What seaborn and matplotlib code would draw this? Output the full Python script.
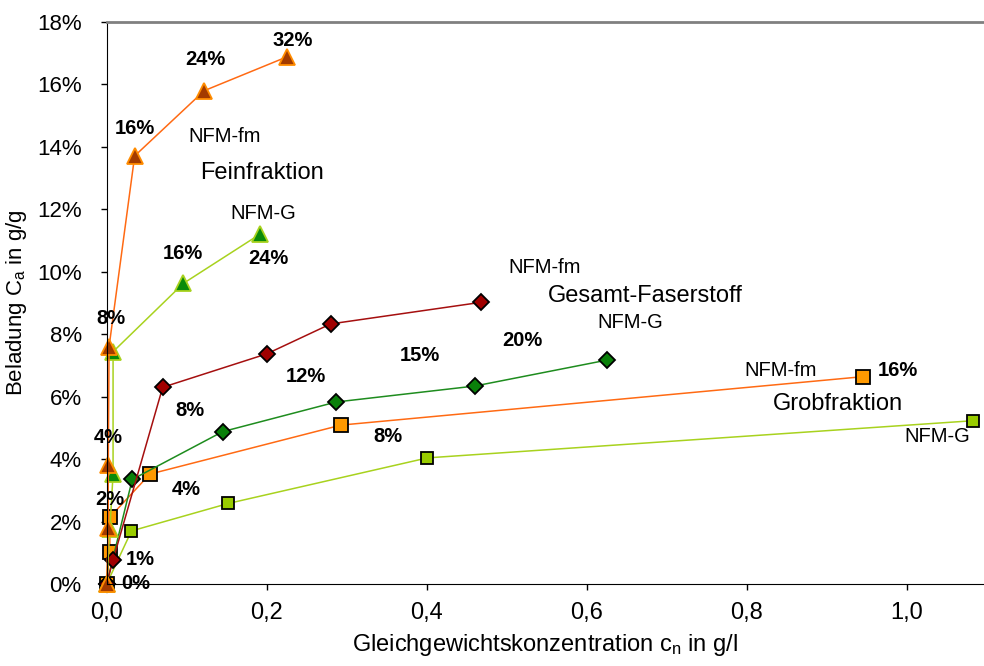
import numpy as np
import pandas as pd
import seaborn as sns
import matplotlib.pyplot as plt
from matplotlib.ticker import FuncFormatter, MultipleLocator

sns.set_style("white")
plt.rcParams["font.family"] = ["Liberation Sans", "DejaVu Sans"]
plt.rcParams["text.color"] = "black"
plt.rcParams["axes.labelcolor"] = "black"
plt.rcParams["mathtext.fontset"] = "custom"
plt.rcParams["mathtext.rm"] = "Liberation Sans"
plt.rcParams["mathtext.it"] = "Liberation Sans"
narrow = ["Liberation Sans Narrow", "Liberation Sans"]

# Feinfraktion
fein_fm_x = [0.0, 0.002, 0.002, 0.003, 0.035, 0.122, 0.226]
fein_fm_y = [0.0, 0.018, 0.0381, 0.076, 0.1371, 0.158, 0.1689]
fein_g_x = [0.0, 0.004, 0.008, 0.008, 0.096, 0.192]
fein_g_y = [0.0, 0.0176, 0.0352, 0.0744, 0.0963, 0.1121]

# Gesamt-Faserstoff
ges_fm_x = [0.0, 0.008, 0.070, 0.200, 0.280, 0.4675]
ges_fm_y = [0.0, 0.0077, 0.063, 0.0737, 0.0833, 0.0902]
ges_g_x = [0.0, 0.032, 0.145, 0.287, 0.460, 0.625]
ges_g_y = [0.0, 0.0335, 0.0488, 0.0583, 0.0634, 0.0717]

# Grobfraktion
grob_fm_x = [0.0, 0.004, 0.004, 0.054, 0.293, 0.945]
grob_fm_y = [0.0, 0.0103, 0.0214, 0.0352, 0.0509, 0.0664]
grob_g_x = [0.0, 0.031, 0.152, 0.401, 1.083]
grob_g_y = [0.0, 0.0170, 0.0258, 0.0404, 0.0523]

# dosage labels (text, x, y)
pct_labels = [
    ("32%", 0.232, 0.174), ("24%", 0.123, 0.168), ("16%", 0.035, 0.146),
    ("8%", 0.005, 0.085), ("4%", 0.002, 0.047), ("2%", 0.004, 0.027),
    ("16%", 0.095, 0.1057), ("24%", 0.202, 0.1041),
    ("8%", 0.104, 0.0557), ("12%", 0.249, 0.0663), ("15%", 0.392, 0.0733),
    ("20%", 0.519, 0.0781), ("4%", 0.099, 0.0304), ("8%", 0.352, 0.0471),
    ("16%", 0.989, 0.0683), ("1%", 0.042, 0.0077), ("0%", 0.036, 0.0003),
]
series_labels = [
    ("NFM-fm", 0.148, 0.1433, 14.5), ("Feinfraktion", 0.194, 0.1315, 17),
    ("NFM-G", 0.196, 0.1187, 14.5), ("NFM-fm", 0.547, 0.1013, 14.5),
    ("Gesamt-Faserstoff", 0.673, 0.0922, 17), ("NFM-G", 0.654, 0.0839, 14.5),
    ("NFM-fm", 0.842, 0.0683, 14.5), ("Grobfraktion", 0.914, 0.0578, 17),
    ("NFM-G", 1.038, 0.0471, 14.5),
]

series = [
    (fein_fm_x, fein_fm_y, "#FF6A13", "^", "#A33B00", "#FF8C00", 11),
    (fein_g_x, fein_g_y, "#A8D21E", "^", "#0A8A0A", "#A8D21E", 11),
    (ges_fm_x, ges_fm_y, "#A50F0F", "D", "#A00000", "black", 8),
    (ges_g_x, ges_g_y, "#1E8C1E", "D", "#0A800A", "black", 8),
    (grob_fm_x, grob_fm_y, "#FF6A13", "s", "#FF9900", "black", 10),
    (grob_g_x, grob_g_y, "#A8D21E", "s", "#99CC00", "black", 9),
]

fig = plt.figure(figsize=(9.84, 6.66), dpi=100)
ax = fig.add_axes([0.1084, 0.1231, 0.8916, 0.8439])

for x, y, lc, m, fc, ec, ms in series[::-1]:
    df = pd.DataFrame({"x": x, "y": y})
    sns.lineplot(data=df, x="x", y="y", ax=ax, sort=False, estimator=None,
                 color=lc, lw=1.1, marker=m, markersize=ms, markerfacecolor=fc,
                 markeredgecolor=ec, markeredgewidth=1.3, clip_on=False)

for t, x, y in pct_labels:
    ax.text(x, y, t, fontsize=14.5, fontweight="bold", ha="center", va="center")
for t, x, y, fs in series_labels:
    ax.text(x, y, t, fontsize=fs, ha="center", va="center")

ax.set_xlim(0, 1.0966)
ax.set_ylim(0, 0.18)
ax.xaxis.set_major_locator(MultipleLocator(0.2))
ax.yaxis.set_major_locator(MultipleLocator(0.02))
ax.xaxis.set_major_formatter(FuncFormatter(lambda v, p: f"{v:.1f}".replace(".", ",")))
ax.yaxis.set_major_formatter(FuncFormatter(lambda v, p: f"{v * 100:.0f}%"))
ax.tick_params(axis="both", direction="out", length=4, width=1, colors="black",
               labelsize=16, bottom=True, left=True)
ax.yaxis.set_tick_params(pad=14)
ax.xaxis.set_tick_params(pad=9)
for lab in ax.get_xticklabels():
    lab.set_family(narrow)
    lab.set_fontsize(17)

ax.spines["left"].set_color("black")
ax.spines["bottom"].set_color("black")
ax.spines["top"].set_color("#808080")
ax.spines["top"].set_linewidth(2)
ax.spines["right"].set_visible(False)

ax.set_xlabel(r"Gleichgewichtskonzentration c$_\mathrm{n}$ in g/l", fontsize=17,
              family=narrow, labelpad=6)
ax.set_ylabel(r"Beladung C$_\mathrm{a}$ in g/g", fontsize=16, labelpad=6)

fig.savefig("out.png", dpi=100)
